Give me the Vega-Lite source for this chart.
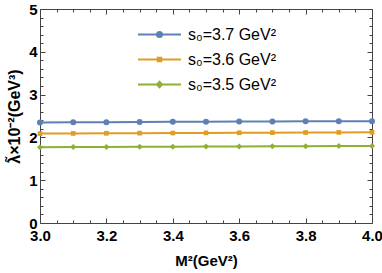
{
  "$schema": "https://vega.github.io/schema/vega-lite/v6.json",
  "width": 332,
  "height": 214,
  "autosize": {"type": "none"},
  "padding": {"left": 40, "top": 9, "right": 10, "bottom": 50},
  "config": {
    "font": "Liberation Sans",
    "view": {"stroke": "#444444", "strokeWidth": 1},
    "axis": {"grid": false, "domain": false, "tickColor": "#444444", "tickWidth": 1, "labelFont": "Liberation Sans", "labelFontWeight": "bold", "labelFontSize": 15, "labelColor": "black", "titleFont": "Liberation Sans", "titleFontWeight": "bold", "titleFontSize": 15, "titleColor": "black"}
  },
  "data": {
    "values": [
      {"M2": 3.0, "lam": 2.35, "s": "s₀=3.7 GeV²"},
      {"M2": 3.1, "lam": 2.353, "s": "s₀=3.7 GeV²"},
      {"M2": 3.2, "lam": 2.356, "s": "s₀=3.7 GeV²"},
      {"M2": 3.3, "lam": 2.36, "s": "s₀=3.7 GeV²"},
      {"M2": 3.4, "lam": 2.363, "s": "s₀=3.7 GeV²"},
      {"M2": 3.5, "lam": 2.366, "s": "s₀=3.7 GeV²"},
      {"M2": 3.6, "lam": 2.369, "s": "s₀=3.7 GeV²"},
      {"M2": 3.7, "lam": 2.372, "s": "s₀=3.7 GeV²"},
      {"M2": 3.8, "lam": 2.375, "s": "s₀=3.7 GeV²"},
      {"M2": 3.9, "lam": 2.377, "s": "s₀=3.7 GeV²"},
      {"M2": 4.0, "lam": 2.38, "s": "s₀=3.7 GeV²"},
      {"M2": 3.0, "lam": 2.09, "s": "s₀=3.6 GeV²"},
      {"M2": 3.1, "lam": 2.093, "s": "s₀=3.6 GeV²"},
      {"M2": 3.2, "lam": 2.096, "s": "s₀=3.6 GeV²"},
      {"M2": 3.3, "lam": 2.099, "s": "s₀=3.6 GeV²"},
      {"M2": 3.4, "lam": 2.102, "s": "s₀=3.6 GeV²"},
      {"M2": 3.5, "lam": 2.105, "s": "s₀=3.6 GeV²"},
      {"M2": 3.6, "lam": 2.108, "s": "s₀=3.6 GeV²"},
      {"M2": 3.7, "lam": 2.111, "s": "s₀=3.6 GeV²"},
      {"M2": 3.8, "lam": 2.114, "s": "s₀=3.6 GeV²"},
      {"M2": 3.9, "lam": 2.117, "s": "s₀=3.6 GeV²"},
      {"M2": 4.0, "lam": 2.12, "s": "s₀=3.6 GeV²"},
      {"M2": 3.0, "lam": 1.77, "s": "s₀=3.5 GeV²"},
      {"M2": 3.1, "lam": 1.773, "s": "s₀=3.5 GeV²"},
      {"M2": 3.2, "lam": 1.776, "s": "s₀=3.5 GeV²"},
      {"M2": 3.3, "lam": 1.779, "s": "s₀=3.5 GeV²"},
      {"M2": 3.4, "lam": 1.782, "s": "s₀=3.5 GeV²"},
      {"M2": 3.5, "lam": 1.785, "s": "s₀=3.5 GeV²"},
      {"M2": 3.6, "lam": 1.788, "s": "s₀=3.5 GeV²"},
      {"M2": 3.7, "lam": 1.791, "s": "s₀=3.5 GeV²"},
      {"M2": 3.8, "lam": 1.794, "s": "s₀=3.5 GeV²"},
      {"M2": 3.9, "lam": 1.797, "s": "s₀=3.5 GeV²"},
      {"M2": 4.0, "lam": 1.8, "s": "s₀=3.5 GeV²"}
    ]
  },
  "layer": [
    {
      "mark": {"type": "line", "strokeWidth": 2},
      "encoding": {
        "x": {"field": "M2", "type": "quantitative", "scale": {"domain": [3, 4], "nice": false, "zero": false},
          "axis": {"orient": "bottom", "values": [3, 3.2, 3.4, 3.6, 3.8, 4], "format": ".1f", "tickSize": -5, "labelPadding": 10, "labelFlush": false, "title": "M²(GeV²)", "titlePadding": 10}},
        "y": {"field": "lam", "type": "quantitative", "scale": {"domain": [0, 5], "nice": false, "zero": false},
          "axis": {"orient": "left", "values": [0, 1, 2, 3, 4, 5], "format": "d", "tickSize": -5, "labelPadding": 8, "title": "λ̃×10⁻²(GeV³)", "titlePadding": 6, "titleFontSize": 16}},
        "color": {"field": "s", "type": "nominal",
          "scale": {"domain": ["s₀=3.7 GeV²", "s₀=3.6 GeV²", "s₀=3.5 GeV²"], "range": ["#5E81B5", "#E19C24", "#8FB032"]},
          "legend": {"orient": "none", "legendX": 108, "legendY": 14, "title": null, "padding": 0, "symbolSize": 441, "symbolStrokeWidth": 2, "labelFontSize": 16, "labelFont": "Liberation Sans", "labelColor": "black", "labelOffset": 17, "rowPadding": 5,
            "encode": {"symbols": {"update": {
              "shape": {"signal": "datum.index === 0 ? 'M-2.05,0H2.05M0.24,0A0.24,0.24,0,1,1,-0.24,0A0.24,0.24,0,1,1,0.24,0Z' : datum.index === 1 ? 'M-2.05,0H2.05M-0.17,-0.17H0.17V0.17H-0.17Z' : 'M-2.05,0H2.05M0,-0.27L0.24,0L0,0.27L-0.24,0Z'"},
              "fill": {"signal": "scale('color', datum.value)"},
              "stroke": {"signal": "scale('color', datum.value)"}
            }}}}
        }
      }
    },
    {
      "transform": [{"filter": "datum.s === 's₀=3.7 GeV²'"}],
      "mark": {"type": "point", "filled": true, "opacity": 1, "shape": "circle", "size": 36, "color": "#5E81B5"},
      "encoding": {
        "x": {"field": "M2", "type": "quantitative", "axis": null},
        "y": {"field": "lam", "type": "quantitative", "axis": null}
      }
    },
    {
      "transform": [{"filter": "datum.s === 's₀=3.6 GeV²'"}],
      "mark": {"type": "point", "filled": true, "opacity": 1, "shape": "square", "size": 22, "color": "#E19C24"},
      "encoding": {
        "x": {"field": "M2", "type": "quantitative", "axis": null},
        "y": {"field": "lam", "type": "quantitative", "axis": null}
      }
    },
    {
      "transform": [{"filter": "datum.s === 's₀=3.5 GeV²'"}],
      "mark": {"type": "point", "filled": true, "opacity": 1, "shape": "diamond", "size": 36, "color": "#8FB032"},
      "encoding": {
        "x": {"field": "M2", "type": "quantitative", "axis": null},
        "y": {"field": "lam", "type": "quantitative", "axis": null}
      }
    },
    {
      "mark": {"type": "point", "opacity": 0},
      "encoding": {
        "x": {"field": "M2", "type": "quantitative", "axis": {"orient": "bottom", "values": [3.05, 3.1, 3.15, 3.25, 3.3, 3.35, 3.45, 3.5, 3.55, 3.65, 3.7, 3.75, 3.85, 3.9, 3.95], "tickSize": -3, "labels": false, "title": null}},
        "y": {"field": "lam", "type": "quantitative", "axis": {"orient": "left", "values": [0.2, 0.4, 0.6, 0.8, 1.2, 1.4, 1.6, 1.8, 2.2, 2.4, 2.6, 2.8, 3.2, 3.4, 3.6, 3.8, 4.2, 4.4, 4.6, 4.8], "tickSize": -3, "labels": false, "title": null}}
      }
    },
    {
      "mark": {"type": "point", "opacity": 0},
      "encoding": {
        "x": {"field": "M2", "type": "quantitative", "axis": {"orient": "top", "values": [3, 3.2, 3.4, 3.6, 3.8, 4], "tickSize": -5, "labels": false, "title": null}},
        "y": {"field": "lam", "type": "quantitative", "axis": {"orient": "right", "values": [0, 1, 2, 3, 4, 5], "tickSize": -5, "labels": false, "title": null}}
      }
    },
    {
      "mark": {"type": "point", "opacity": 0},
      "encoding": {
        "x": {"field": "M2", "type": "quantitative", "axis": {"orient": "top", "values": [3.05, 3.1, 3.15, 3.25, 3.3, 3.35, 3.45, 3.5, 3.55, 3.65, 3.7, 3.75, 3.85, 3.9, 3.95], "tickSize": -3, "labels": false, "title": null}},
        "y": {"field": "lam", "type": "quantitative", "axis": {"orient": "right", "values": [0.2, 0.4, 0.6, 0.8, 1.2, 1.4, 1.6, 1.8, 2.2, 2.4, 2.6, 2.8, 3.2, 3.4, 3.6, 3.8, 4.2, 4.4, 4.6, 4.8], "tickSize": -3, "labels": false, "title": null}}
      }
    }
  ],
  "resolve": {"axis": {"x": "independent", "y": "independent"}}
}
